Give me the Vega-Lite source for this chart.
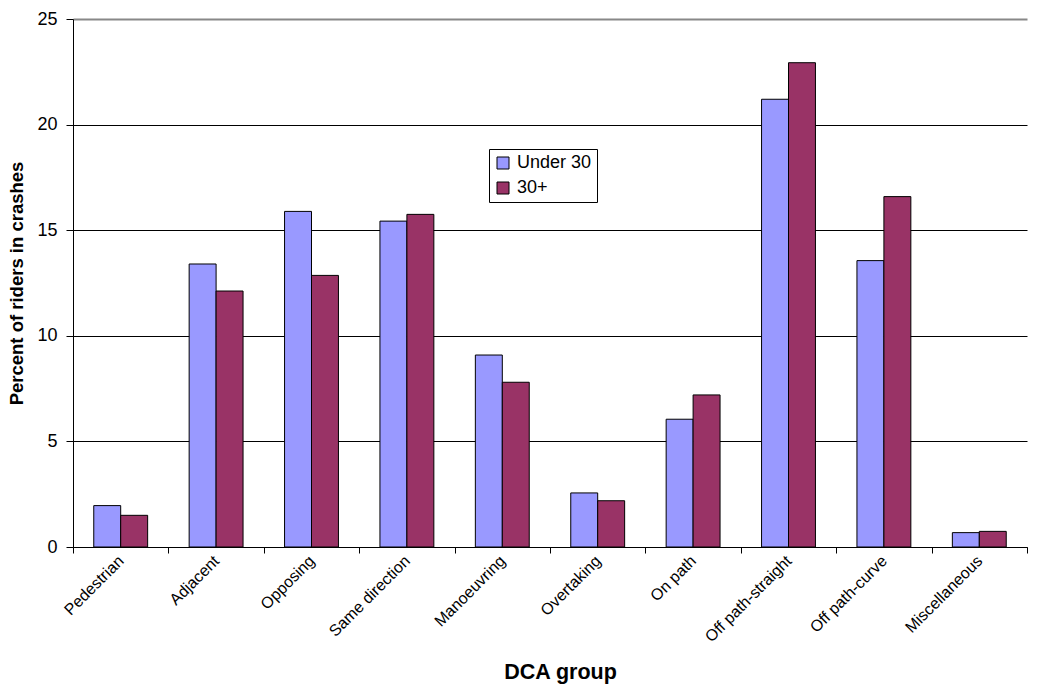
{
  "$schema": "https://vega.github.io/schema/vega-lite/v6.json",
  "width": 954,
  "height": 528,
  "autosize": {"type": "none"},
  "padding": {"left": 73, "top": 19, "right": 10, "bottom": 142},
  "background": "white",
  "config": {
    "view": {"stroke": null},
    "font": "Liberation Sans"
  },
  "data": {
    "values": [
      {"group": "Pedestrian", "age": "Under 30", "percent": 1.96},
      {"group": "Pedestrian", "age": "30+", "percent": 1.5},
      {"group": "Adjacent", "age": "Under 30", "percent": 13.4},
      {"group": "Adjacent", "age": "30+", "percent": 12.12},
      {"group": "Opposing", "age": "Under 30", "percent": 15.89},
      {"group": "Opposing", "age": "30+", "percent": 12.86},
      {"group": "Same direction", "age": "Under 30", "percent": 15.43},
      {"group": "Same direction", "age": "30+", "percent": 15.75},
      {"group": "Manoeuvring", "age": "Under 30", "percent": 9.09},
      {"group": "Manoeuvring", "age": "30+", "percent": 7.8},
      {"group": "Overtaking", "age": "Under 30", "percent": 2.56},
      {"group": "Overtaking", "age": "30+", "percent": 2.19},
      {"group": "On path", "age": "Under 30", "percent": 6.05},
      {"group": "On path", "age": "30+", "percent": 7.2},
      {"group": "Off path-straight", "age": "Under 30", "percent": 21.2},
      {"group": "Off path-straight", "age": "30+", "percent": 22.93},
      {"group": "Off path-curve", "age": "Under 30", "percent": 13.56},
      {"group": "Off path-curve", "age": "30+", "percent": 16.59},
      {"group": "Miscellaneous", "age": "Under 30", "percent": 0.68},
      {"group": "Miscellaneous", "age": "30+", "percent": 0.74}
    ]
  },
  "mark": {"type": "bar", "stroke": "black", "strokeWidth": 1},
  "encoding": {
    "x": {
      "field": "group",
      "type": "nominal",
      "sort": null,
      "scale": {"paddingInner": 0, "paddingOuter": 0},
      "axis": {
        "title": "DCA group",
        "titleFontSize": 21.5,
        "titleFontWeight": "bold",
        "titleColor": "black",
        "titlePadding": 17,
        "titleX": 487,
        "labelAngle": -45,
        "labelAlign": "right",
        "labelBaseline": "middle",
        "labelFontSize": 16,
        "labelColor": "black",
        "labelPadding": 5,
        "tickBand": "extent",
        "tickColor": "black",
        "tickSize": 6,
        "domainColor": "black",
        "grid": false
      }
    },
    "xOffset": {
      "field": "age",
      "type": "nominal",
      "sort": ["Under 30", "30+"],
      "scale": {"paddingInner": 0, "paddingOuter": 0.77}
    },
    "y": {
      "field": "percent",
      "type": "quantitative",
      "scale": {"domain": [0, 25], "nice": false},
      "axis": {
        "title": "Percent of riders in crashes",
        "titleFontSize": 18.5,
        "titleFontWeight": "bold",
        "titleColor": "black",
        "titlePadding": 10,
        "values": [0, 5, 10, 15, 20, 25],
        "labelFontSize": 18,
        "labelColor": "black",
        "labelPadding": 9,
        "tickColor": "black",
        "tickSize": 7,
        "domainColor": "black",
        "grid": true,
        "gridColor": {"condition": {"test": "datum.value === 25", "value": "#888888"}, "value": "black"},
        "gridWidth": {"condition": {"test": "datum.value === 25", "value": 2}, "value": 1},
        "gridOpacity": 1
      }
    },
    "color": {
      "field": "age",
      "type": "nominal",
      "scale": {"domain": ["Under 30", "30+"], "range": ["#9999FF", "#993366"]},
      "legend": {
        "title": null,
        "orient": "none",
        "legendX": 416,
        "legendY": 130,
        "strokeColor": "black",
        "fillColor": "white",
        "padding": 5,
        "labelFontSize": 18,
        "labelColor": "black",
        "labelOffset": 5,
        "symbolType": "square",
        "symbolSize": 144,
        "symbolStrokeColor": "black",
        "symbolStrokeWidth": 1,
        "symbolOpacity": 1,
        "rowPadding": 7
      }
    }
  }
}
